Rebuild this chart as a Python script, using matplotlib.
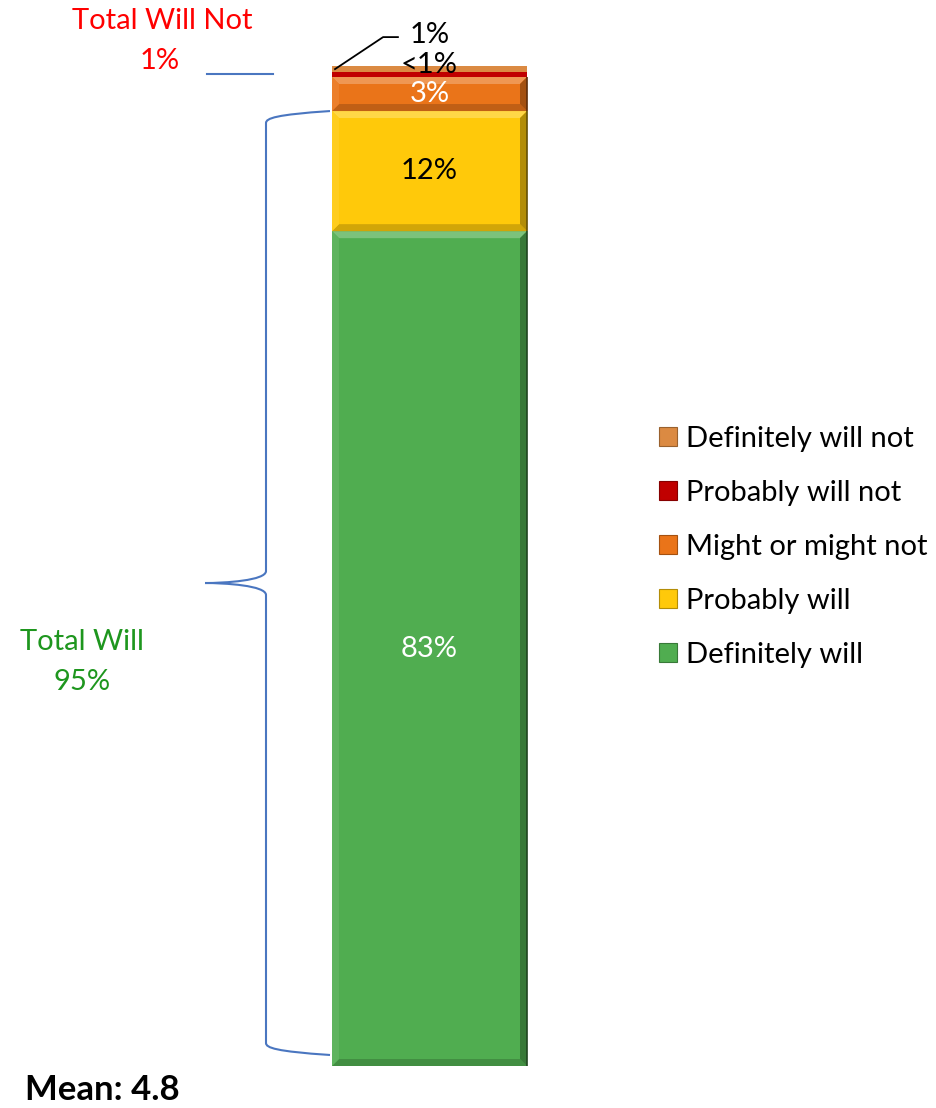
import matplotlib
matplotlib.use("Agg")
import matplotlib.pyplot as plt
from matplotlib.patches import Polygon, Patch, PathPatch
from matplotlib.path import Path
import numpy as np

plt.rcParams['font.family'] = ['Lato', 'DejaVu Sans']

# Response shares, stacked bottom to top
categories = ["Definitely will", "Probably will", "Might or might not",
              "Probably will not", "Definitely will not"]
values = [83.4, 12.0, 3.4, 0.49, 0.6]
colors = ["#50AD50", "#FFC90A", "#EA7419", "#C00000", "#DB8A42"]
beveled = [True, True, True, False, False]
label_colors = ["white", "black", "white", "black", "black"]
total_will = values[0] + values[1]
total_will_not = values[3] + values[4]
mean_score = 4.8


def pct_label(v):
    r = int(round(v))
    return "<1%" if r < 1 else f"{r}%"


def shade(c, f):
    rgb = np.array(matplotlib.colors.to_rgb(c))
    if f >= 0:
        rgb = rgb + (1 - rgb) * f
    else:
        rgb = rgb * (1 + f)
    return tuple(np.clip(rgb, 0, 1))


W, H = 937, 1108
fig = plt.figure(figsize=(W / 100, H / 100), dpi=100)
ax = fig.add_axes([0, 0, 1, 1])
px_y = 100 / 1001
px_x = 1 / 195
ax.set_xlim(-429.5 * px_x, (W - 429.5) * px_x)
ax.set_ylim(-(H - 1066) * px_y, 100 + 65 * px_y)
ax.axis("off")

bw = 1.0
x0, x1 = -bw / 2, bw / 2
bottom = 0.0
for v, c, bev in zip(values, colors, beveled):
    ax.bar(0, v, width=bw, bottom=bottom, color=c, edgecolor="none", zorder=2)
    if bev:
        b = 7 * px_y
        bx = 7 * px_x
        y0, y1 = bottom, bottom + v
        ax.add_patch(Polygon([(x0, y1), (x1, y1), (x1 - bx, y1 - b), (x0 + bx, y1 - b)],
                             closed=True, color=shade(c, 0.25), lw=0, zorder=3))
        ax.add_patch(Polygon([(x0, y0), (x1, y0), (x1 - bx, y0 + b), (x0 + bx, y0 + b)],
                             closed=True, color=shade(c, -0.18), lw=0, zorder=3))
        ax.add_patch(Polygon([(x1, y0), (x1, y1), (x1 - bx, y1 - b), (x1 - bx, y0 + b)],
                             closed=True, color=shade(c, -0.3), lw=0, zorder=3))
        ax.add_patch(Polygon([(x0, y0), (x0, y1), (x0 + bx, y1 - b), (x0 + bx, y0 + b)],
                             closed=True, color=shade(c, 0.08), lw=0, zorder=3))
        ax.plot([x1, x1], [y0, y1], color=shade(c, -0.6), lw=1.2, zorder=4,
                solid_capstyle="butt")
    bottom += v

# segment labels
cum = np.cumsum([0] + values)
fs = 21
for i in range(3):
    ax.text(0, (cum[i] + cum[i + 1]) / 2, pct_label(values[i]), color=label_colors[i],
            ha="center", va="center", fontsize=fs, zorder=5)
ax.text(0, cum[5] + 1 * px_y, pct_label(values[3]), color=label_colors[3],
        ha="center", va="center", fontsize=fs, zorder=5)
ax.text(0, cum[5] + 31 * px_y, pct_label(values[4]), color=label_colors[4],
        ha="center", va="center", fontsize=fs, zorder=5)
# leader line for the top segment
ax.plot([x0 + 3 * px_x, -0.238, -0.162],
        [cum[4] + 3 * px_y, cum[5] + 29 * px_y, cum[5] + 29 * px_y],
        color="black", lw=1.3, zorder=5)

# Total Will Not annotation
ax.text(-1.372, cum[5] + 45 * px_y, "Total Will Not", color="red",
        ha="center", va="center", fontsize=fs)
ax.text(-1.382, cum[5] + 5 * px_y, f"{int(round(total_will_not))}%", color="red",
        ha="center", va="center", fontsize=fs)
ax.plot([-1.141, -0.803], [cum[5] - 8 * px_y] * 2, color="#4A76C0", lw=1.5)

# curly brace for Total Will
bc = "#4A76C0"
top = total_will
bot = 1.1
mid = (top + bot) / 2
xb = -0.5 - 2 * px_x
xv = -0.5 - 66 * px_x
xt = -0.5 - 127 * px_x
r = 12 * px_y
verts = [
    (xb, top), (xv + 0.05, top - 0.3 * r), (xv, top - 0.6 * r), (xv, top - r),
    (xv, mid + r),
    (xv, mid + 0.2 * r), (xt + 0.1, mid), (xt, mid),
    (xt + 0.1, mid), (xv, mid - 0.2 * r), (xv, mid - r),
    (xv, bot + r),
    (xv, bot + 0.6 * r), (xv + 0.05, bot + 0.3 * r), (xb, bot),
]
codes = [Path.MOVETO, Path.CURVE4, Path.CURVE4, Path.CURVE4,
         Path.LINETO,
         Path.CURVE4, Path.CURVE4, Path.CURVE4,
         Path.CURVE4, Path.CURVE4, Path.CURVE4,
         Path.LINETO,
         Path.CURVE4, Path.CURVE4, Path.CURVE4]
ax.add_patch(PathPatch(Path(verts, codes), facecolor="none", edgecolor=bc, lw=1.5))

ax.text(-1.782, mid - 5.9, "Total Will", color="#1E961E",
        ha="center", va="center", fontsize=fs)
ax.text(-1.782, mid - 9.9, f"{int(round(total_will))}%", color="#1E961E",
        ha="center", va="center", fontsize=fs)

# Mean
fig.text(25 / W, 1 - 1090 / H, f"Mean: {mean_score}", fontsize=25,
         fontweight="bold", ha="left", va="center")

# legend, top entry = top segment
handles = [Patch(facecolor=c, edgecolor=shade(c, -0.3), lw=0.8)
           for c in colors[::-1]]
leg = fig.legend(handles, categories[::-1], loc="center left",
                 bbox_to_anchor=(659 / W, 1 - 547 / H), frameon=False,
                 fontsize=fs, handlelength=0.62, handleheight=0.62,
                 handletextpad=0.3, labelspacing=0.96, borderaxespad=0,
                 borderpad=0)

fig.savefig("out.png", dpi=100)
